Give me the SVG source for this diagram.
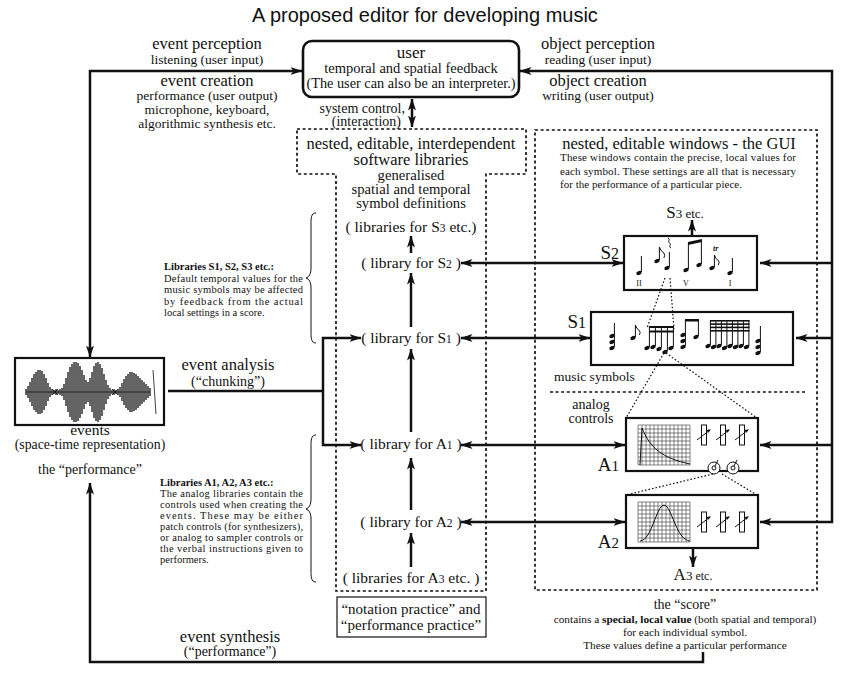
<svg xmlns="http://www.w3.org/2000/svg" xmlns:xlink="http://www.w3.org/1999/xlink" width="850" height="681" viewBox="0 0 850 681">
<style>
.t{font-family:"Liberation Serif","Times New Roman",serif;fill:#111}
.c{text-anchor:middle}
.ln{stroke:#111;stroke-width:2.5;fill:none}
.dot{stroke:#111;stroke-width:1.7;stroke-dasharray:3 2.6;fill:none}
.fd{stroke:#111;stroke-width:1.2;stroke-dasharray:1.6 2;fill:none}
.box{fill:#fff;stroke:#111;stroke-width:2.2}
.st{stroke:#111;stroke-width:1;fill:none}
.b{font-weight:bold}
</style>
<defs>
<marker id="ah" viewBox="0 0 12 8" refX="11.5" refY="4" markerWidth="12" markerHeight="8" markerUnits="userSpaceOnUse" orient="auto-start-reverse"><path d="M0,0 L12,4 L0,8 L3,4 Z" fill="#111"/></marker>
<ellipse id="nh" rx="2.8" ry="2" transform="rotate(-25)" fill="#111"/>
<path id="grid" d="M0,0V40M4,0V40M8,0V40M12,0V40M16,0V40M20,0V40M24,0V40M28,0V40M32,0V40M36,0V40M40,0V40M44,0V40M48,0V40M52,0V40M0,0H52M0,4H52M0,8H52M0,12H52M0,16H52M0,20H52M0,24H52M0,28H52M0,32H52M0,36H52M0,40H52" stroke="#333" stroke-width="0.6" fill="none"/>
<g id="sl"><rect x="-2.5" y="0" width="5" height="20" fill="#fff" stroke="#111" stroke-width="1"/><path d="M-7,15 L6,5" stroke="#111" stroke-width="1"/><path d="M7,4.3 l-4.5,0.8 l2,2.6z" fill="#111"/></g>
<g id="kn"><circle r="6" fill="#fff" stroke="#111" stroke-width="1"/><circle r="2" fill="none" stroke="#111" stroke-width="1"/><path d="M1,-2 L4,-8" stroke="#111" stroke-width="1"/></g>
</defs>
<rect width="850" height="681" fill="#fff"/>

<g id="title"><text x="425" y="22" font-family="Liberation Sans, Arial, sans-serif" font-size="20" text-anchor="middle" fill="#111">A proposed editor for developing music</text></g>

<g id="event-labels" class="t c">
<text x="207" y="49" font-size="16.5">event perception</text>
<text x="207" y="64" font-size="13.5">listening (user input)</text>
<text x="207" y="86" font-size="16.5">event creation</text>
<text x="207" y="100" font-size="13.5">performance (user output)</text>
<text x="207" y="114" font-size="13.5">microphone, keyboard,</text>
<text x="207" y="128" font-size="13.5">algorithmic synthesis etc.</text>
</g>

<g id="object-labels" class="t c">
<text x="598" y="49" font-size="16.5">object perception</text>
<text x="598" y="64" font-size="13.5">reading (user input)</text>
<text x="598" y="86" font-size="16.5">object creation</text>
<text x="598" y="100" font-size="13.5">writing (user output)</text>
</g>

<g id="user">
<rect x="303" y="41" width="216" height="56" rx="9" fill="#fff" stroke="#111" stroke-width="2.6"/>
<text class="t c" x="411" y="58" font-size="17">user</text>
<text class="t c" x="411" y="73" font-size="14.5">temporal and spatial feedback</text>
<text class="t c" x="411" y="88" font-size="14.3">(The user can also be an interpreter.)</text>
</g>

<g id="system-control" class="t">
<text x="405" y="113" font-size="14" text-anchor="end">system control,</text>
<text x="401" y="126" font-size="14" text-anchor="end">(interaction)</text>
</g>

<g id="libraries">
<path class="dot" d="M297,129 H526 V174 H486 V591 H336 V174 H297 Z"/>
<text class="t c" x="411" y="149" font-size="16.5">nested, editable, interdependent</text>
<text class="t c" x="411" y="165" font-size="16.5">software libraries</text>
<text class="t c" x="411" y="180" font-size="14.7">generalised</text>
<text class="t c" x="411" y="194" font-size="14.7">spatial and temporal</text>
<text class="t c" x="411" y="208" font-size="14.7">symbol definitions</text>
<text class="t c" x="411" y="232" font-size="15.5">( libraries for S<tspan font-size="11.5">3</tspan> etc.)</text>
<text class="t c" x="411" y="268" font-size="15.5">( library for S<tspan font-size="11.5">2</tspan> )</text>
<text class="t c" x="411" y="343" font-size="15.5">( library for S<tspan font-size="11.5">1</tspan> )</text>
<text class="t c" x="411" y="449" font-size="15.5">( library for A<tspan font-size="11.5">1</tspan> )</text>
<text class="t c" x="411" y="527" font-size="15.5">( library for A<tspan font-size="11.5">2</tspan> )</text>
<text class="t c" x="411" y="583" font-size="15.5">( libraries for A<tspan font-size="11.5">3</tspan> etc. )</text>
</g>

<g id="practice">
<rect x="337" y="597" width="149" height="40" fill="#fff" stroke="#111" stroke-width="1.2"/>
<text class="t c" x="411" y="614" font-size="15">“notation practice” and</text>
<text class="t c" x="411" y="630" font-size="15">“performance practice”</text>
</g>

<g id="notes-s" class="t" font-size="10.5">
<path class="st" d="M316,213 C311,213 311,218 311,225 L311,268 C311,274 309,277 306,278 C309,279 311,282 311,288 L311,331 C311,338 311,343 316,343" stroke-width="1.2"/>
<text x="164" y="270" class="b">Libraries S1, S2, S3 etc.:</text>
<text x="164" y="282" textLength="139" lengthAdjust="spacing">Default temporal values for the</text>
<text x="164" y="293" textLength="139" lengthAdjust="spacing">music symbols may be affected</text>
<text x="164" y="305" textLength="139" lengthAdjust="spacing">by feedback from the actual</text>
<text x="164" y="316">local settings in a score.</text>
</g>

<g id="notes-a" class="t" font-size="10.5">
<path class="st" d="M316,435 C311,435 311,440 311,447 L311,499 C311,505 309,508 306,509 C309,510 311,513 311,519 L311,570 C311,577 311,582 316,582" stroke-width="1.2"/>
<text x="160" y="486" class="b">Libraries A1, A2, A3 etc.:</text>
<text x="160" y="497" textLength="143" lengthAdjust="spacing">The analog libraries contain the</text>
<text x="160" y="508" textLength="143" lengthAdjust="spacing">controls used when creating the</text>
<text x="160" y="519" textLength="143" lengthAdjust="spacing">events. These may be either</text>
<text x="160" y="530" textLength="143" lengthAdjust="spacing">patch controls (for synthesizers),</text>
<text x="160" y="541" textLength="143" lengthAdjust="spacing">or analog to sampler controls or</text>
<text x="160" y="552" textLength="143" lengthAdjust="spacing">the verbal instructions given to</text>
<text x="160" y="563">performers.</text>
</g>

<g id="events">
<rect class="box" x="15" y="358" width="149" height="67"/>
<path stroke="#111" stroke-width="1.3" fill="none" d="M26,389V395M28,386V398M30,382V402M32,378V406M34,374V410M36,372V412M38,370V414M40,370V414M42,371V413M44,374V410M46,378V406M48,383V401M50,387V397M52,389V395M54,390V394M56,389V395M58,390V394M60,389V395M62,388V396M64,384V400M66,378V406M68,372V412M70,367V417M72,364V420M74,362V422M76,362V422M78,363V421M80,366V418M82,370V414M84,375V409M86,380V404M88,382V402M90,378V406M92,372V412M94,366V418M96,363V421M98,362V422M100,364V420M102,368V416M104,374V410M106,380V404M108,385V399M110,388V396M112,390V394M114,389V395M116,390V394M118,389V395M120,387V397M122,383V401M124,379V405M126,376V408M128,374V410M130,372V412M132,372V412M134,373V411M136,374V410M138,376V408M140,378V406M142,380V404M144,382V402M146,384V400M148,386V398M150,388V396"/>
<path stroke="#111" stroke-width="0.8" fill="none" d="M26,392H150 M52,389 l6,6 M52,395 l6,-6 M112,389 l6,6 M112,395 l6,-6 M153,370 L156,414"/>
<text class="t c" x="90" y="435" font-size="15.5">events</text>
<text class="t c" x="90" y="449" font-size="13.8">(space-time representation)</text>
<text class="t c" x="90" y="474" font-size="14">the “performance”</text>
</g>

<g id="analysis-label" class="t c">
<text x="228" y="370" font-size="16.5">event analysis</text>
<text x="228" y="386" font-size="14">(“chunking”)</text>
</g>

<g id="synthesis-label" class="t c">
<text x="230" y="642" font-size="16.5">event synthesis</text>
<text x="230" y="656" font-size="14">(“performance”)</text>
</g>

<g id="gui">
<rect class="dot" x="535" y="130" width="282" height="460"/>
<text class="t c" x="679" y="149" font-size="16.5">nested, editable windows - the GUI</text>
<text class="t" x="560" y="161" font-size="11" textLength="236" lengthAdjust="spacing">These windows contain the precise, local values for</text>
<text class="t" x="560" y="175" font-size="11" textLength="236" lengthAdjust="spacing">each symbol. These settings are all that is necessary</text>
<text class="t" x="560" y="188" font-size="11" textLength="182" lengthAdjust="spacing">for the performance of a particular piece.</text>
<text class="t c" x="685" y="218" font-size="17">S<tspan font-size="13">3</tspan><tspan font-size="13"> etc.</tspan></text>
<text class="t" x="554" y="381" font-size="13.5">music symbols</text>
<path class="dot" d="M550,392 H806"/>
<text class="t c" x="591" y="409" font-size="14">analog</text>
<text class="t c" x="591" y="423" font-size="14">controls</text>
<text class="t c" x="693" y="580" font-size="17">A<tspan font-size="13">3</tspan><tspan font-size="12"> etc.</tspan></text>
</g>

<g id="s2-window">
<rect class="box" x="624" y="236" width="133" height="54"/>
<text class="t" x="619" y="259" font-size="19" text-anchor="end">S<tspan font-size="16">2</tspan></text>
<use href="#nh" x="639" y="273"/><path class="st" d="M641.4,272V256"/>
<use href="#nh" x="657" y="261"/><path class="st" d="M659.4,260V247 M659.4,247 q1,4 4.5,6 q1.5,2 0,5"/>
<use href="#nh" x="667" y="268"/><path class="st" d="M669.4,267V252 M668,238 c3,1.5 -1,3.5 1.5,5 c2.5,1.5 -1.5,3.5 1.5,5" stroke-width="1.1"/>
<use href="#nh" x="686" y="270"/><use href="#nh" x="699" y="265"/>
<path class="st" d="M688.4,269V243 M701.4,264V240"/>
<path d="M688,242 L701.9,239 L701.9,242 L688,245 Z" fill="#111"/>
<use href="#nh" x="712" y="268"/><path class="st" d="M714.4,267V255 M714.4,255 q1,4 4,5.5 q1.5,2 0,4.5"/>
<text class="t" x="713" y="251" font-size="8" font-style="italic" font-weight="bold">tr</text>
<use href="#nh" x="730" y="273"/><path class="st" d="M732.4,272V258"/>
<text class="t c" x="639" y="286" font-size="8">II</text>
<text class="t c" x="686" y="286" font-size="8">V</text>
<text class="t c" x="730" y="286" font-size="8">I</text>
</g>

<g id="s1-window">
<rect class="box" x="591" y="312" width="202" height="53"/>
<text class="t" x="586" y="328" font-size="19" text-anchor="end">S<tspan font-size="16">1</tspan></text>
<use href="#nh" x="612" y="336"/><use href="#nh" x="612" y="342"/><use href="#nh" x="612" y="348"/>
<path class="st" d="M614.4,347V323"/>
<use href="#nh" x="633" y="338"/><path class="st" d="M635.4,337V325 M635.4,325 q1,4 4,5.5 q1.5,2 0,4.5"/>
<use href="#nh" x="647" y="348"/><use href="#nh" x="653" y="347"/><use href="#nh" x="659" y="349"/><use href="#nh" x="665" y="352"/><use href="#nh" x="671" y="348"/>
<path class="st" d="M649.4,347V327 M655.4,346V327 M661.4,348V327 M667.4,351V327 M673.4,347V327"/>
<rect x="649" y="326" width="25" height="2" fill="#111"/><rect x="649" y="330.5" width="25" height="2" fill="#111"/>
<use href="#nh" x="683" y="335"/><use href="#nh" x="683" y="341"/><use href="#nh" x="683" y="347"/><use href="#nh" x="696" y="337"/>
<path class="st" d="M685.4,346V320 M698.4,336V320"/>
<rect x="685" y="319" width="14" height="2.5" fill="#111"/>
<use href="#nh" x="708" y="346"/><use href="#nh" x="713.5" y="347"/><use href="#nh" x="719" y="346"/><use href="#nh" x="724.5" y="348"/><use href="#nh" x="730" y="346"/><use href="#nh" x="735.5" y="347"/><use href="#nh" x="741" y="346"/><use href="#nh" x="746.5" y="347"/>
<path class="st" stroke-width="0.9" d="M710.4,345V320 M715.9,346V320 M721.4,345V320 M726.9,347V320 M732.4,345V320 M737.9,346V320 M743.4,345V320 M748.9,346V320"/>
<rect x="710" y="320" width="39.5" height="1.6" fill="#111"/><rect x="710" y="323.3" width="39.5" height="1.6" fill="#111"/><rect x="710" y="326.6" width="39.5" height="1.6" fill="#111"/><rect x="710" y="330" width="39.5" height="1.6" fill="#111"/>
<use href="#nh" x="758" y="341"/><use href="#nh" x="758" y="347"/><use href="#nh" x="758" y="353"/>
<path class="st" d="M760.4,352V326"/>
</g>

<g id="a1-window">
<rect class="box" x="626" y="418" width="132" height="53"/>
<text class="t" x="619" y="471" font-size="19" text-anchor="end">A<tspan font-size="15">1</tspan></text>
<use href="#grid" x="638" y="425"/>
<path class="st" stroke-width="1.2" d="M640,465 L642,428 C650,448 662,458 690,464"/>
<use href="#sl" x="704" y="425"/><use href="#sl" x="723" y="425"/><use href="#sl" x="742" y="425"/>
<use href="#kn" x="714" y="468"/><use href="#kn" x="733" y="468"/>
</g>

<g id="a2-window">
<rect class="box" x="626" y="495" width="132" height="53"/>
<text class="t" x="619" y="548" font-size="19" text-anchor="end">A<tspan font-size="15">2</tspan></text>
<use href="#grid" x="638" y="502"/>
<path class="st" stroke-width="1.2" d="M640,541 C652,540 656,506 664,505 C672,506 676,540 690,541"/>
<use href="#sl" x="704" y="512"/><use href="#sl" x="723" y="512"/><use href="#sl" x="742" y="512"/>
</g>

<g id="score" class="t c">
<text x="685" y="609" font-size="14">the “score”</text>
<text x="685" y="623" font-size="11.3">contains a <tspan class="b">special, local value</tspan> (both spatial and temporal)</text>
<text x="685" y="636" font-size="11.3">for each individual symbol.</text>
<text x="685" y="649" font-size="11.3">These values define a particular performance</text>
</g>

<g id="connectors">
<path class="ln" d="M302,71 H90 V357" marker-start="url(#ah)" marker-end="url(#ah)"/>
<path class="ln" d="M520,71 H832 V522 H760" marker-start="url(#ah)" marker-end="url(#ah)"/>
<path class="ln" d="M832,263 H760" marker-end="url(#ah)"/>
<path class="ln" d="M832,338 H796" marker-end="url(#ah)"/>
<path class="ln" d="M832,445 H760" marker-end="url(#ah)"/>
<path class="ln" d="M412,99 V127" marker-start="url(#ah)" marker-end="url(#ah)"/>
<path class="ln" d="M461,263 H623" marker-start="url(#ah)" marker-end="url(#ah)"/>
<path class="ln" d="M461,338 H590" marker-start="url(#ah)" marker-end="url(#ah)"/>
<path class="ln" d="M461,445 H625" marker-start="url(#ah)" marker-end="url(#ah)"/>
<path class="ln" d="M461,522 H625" marker-start="url(#ah)" marker-end="url(#ah)"/>
<path class="ln" d="M411,253 V236" marker-end="url(#ah)"/>
<path class="ln" d="M411,327 V273" marker-end="url(#ah)"/>
<path class="ln" d="M411,432 V349" marker-end="url(#ah)"/>
<path class="ln" d="M411,510 V458" marker-end="url(#ah)"/>
<path class="ln" d="M411,567 V533" marker-end="url(#ah)"/>
<path class="ln" d="M168,391 H323"/>
<path class="ln" d="M361,338 H323 V445 H361" marker-start="url(#ah)" marker-end="url(#ah)"/>
<path class="ln" d="M692,236 V220" marker-end="url(#ah)"/>
<path class="ln" d="M693,548 V567" marker-end="url(#ah)"/>
<path class="ln" d="M703,652 V662 H90 V483" marker-end="url(#ah)"/>
<path class="fd" d="M665,278 L647,328 M670,278 L674,329"/>
<path class="fd" d="M664,353 L626,418 M666,353 L757,418"/>
<path class="fd" d="M713,474 L626,495 M722,474 L757,495"/>
</g>
</svg>
